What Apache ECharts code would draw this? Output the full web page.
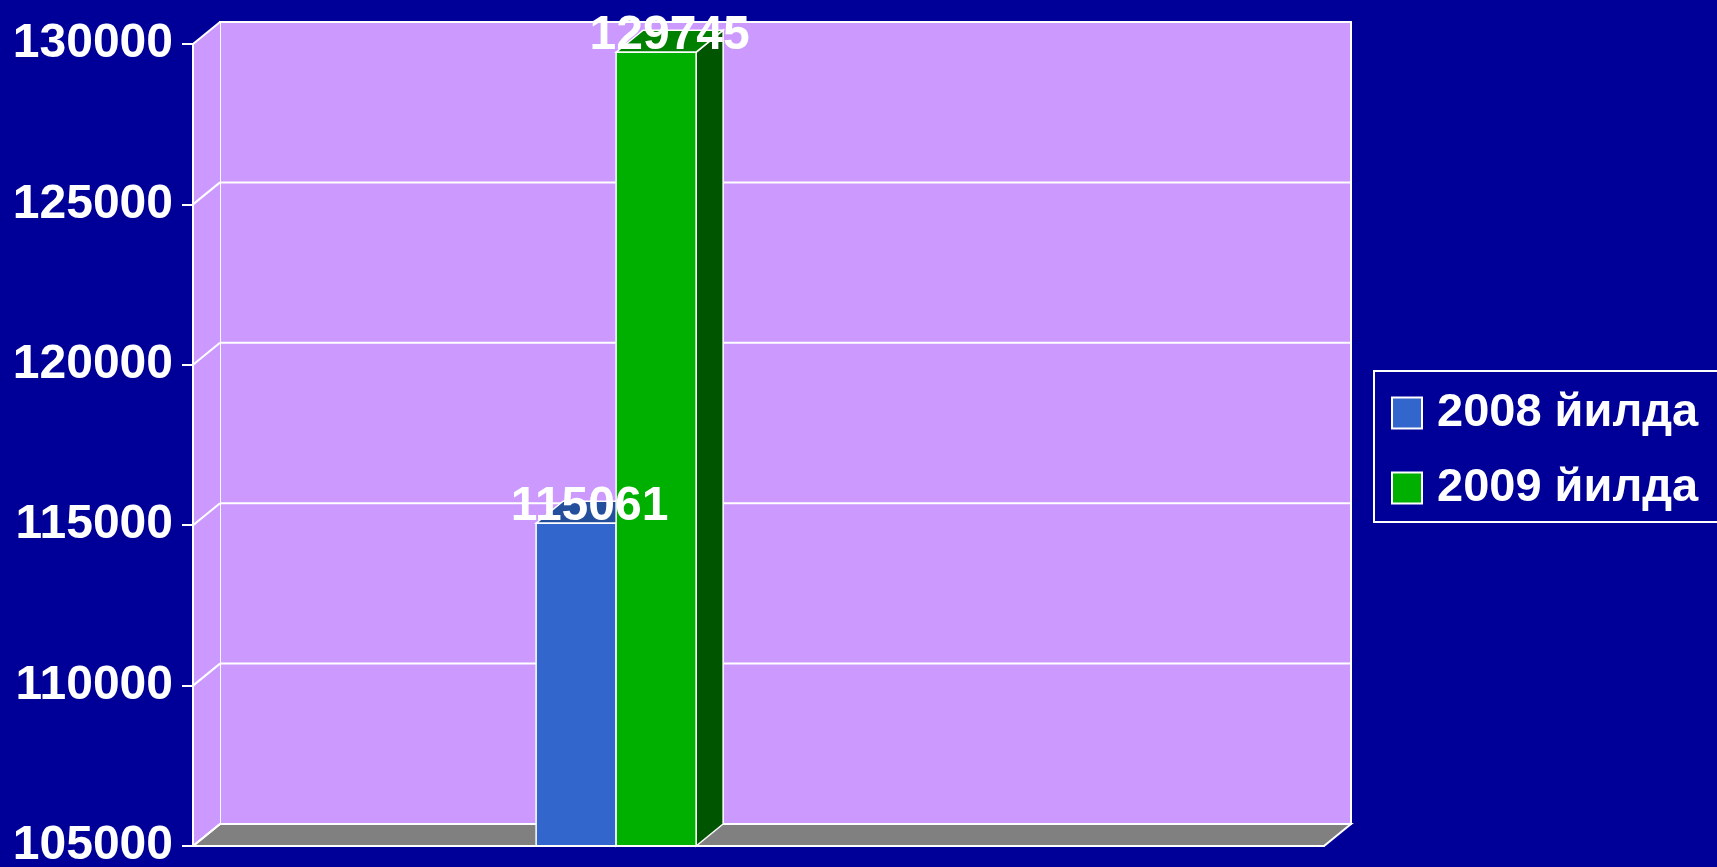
<!DOCTYPE html>
<html>
<head>
<meta charset="utf-8">
<script src="https://cdn.jsdelivr.net/npm/echarts@6/dist/echarts.min.js"></script>
<style>
  html, body { margin: 0; padding: 0; background: #000099; }
  #chart { width: 1717px; height: 867px; }
</style>
</head>
<body>
<div id="chart"></div>
<script>
// data
const categories = ['', '', '', ''];
const seriesNames = ['2008 йилда', '2009 йилда'];
const values2008 = [null, 115061, null, null];
const values2009 = [null, 129745, null, null];
const yTicks = [105000, 110000, 115000, 120000, 125000, 130000];

const yMin = yTicks[0];
const yMax = yTicks[yTicks.length - 1];
const yStep = yTicks[1] - yTicks[0];

// look of the 3d box
const DX = 27, DY = -22;
const BAR_W = 80;
const barOffsets = [-81, -1];
const FONT = 'Liberation Sans, Arial, sans-serif';
const WALL = '#cc99ff';
const colors = [
  { front: '#3366cc', top: '#234f9c', side: '#1d3f80' },
  { front: '#00b000', top: '#008000', side: '#005500' }
];

function toData(arr) {
  return arr.map((v, i) => [i, v]).filter(d => d[1] != null);
}

function frameRender(params, api) {
  const cs = params.coordSys;
  const x0 = cs.x, x1 = cs.x + cs.width;
  const y0 = cs.y, y1 = cs.y + cs.height;
  const line = { stroke: '#fff', lineWidth: 2 };
  const kids = [
    { type: 'rect', shape: { x: x0 + DX, y: y0 + DY, width: cs.width, height: cs.height },
      style: { fill: WALL, stroke: '#fff', lineWidth: 2 } },
    { type: 'polygon', shape: { points: [[x0, y0], [x0 + DX, y0 + DY], [x0 + DX, y1 + DY], [x0, y1]] },
      style: { fill: WALL } },
    { type: 'polygon', shape: { points: [[x0, y1], [x1, y1], [x1 + DX, y1 + DY], [x0 + DX, y1 + DY]] },
      style: { fill: '#808080', stroke: '#fff', lineWidth: 2 } }
  ];
  yTicks.forEach(v => {
    const y = api.coord([0, v])[1];
    if (v !== yMin) {
      kids.push({ type: 'line', shape: { x1: x0 + DX, y1: y + DY, x2: x1 + DX, y2: y + DY }, style: line });
    }
    kids.push({ type: 'line', shape: { x1: x0, y1: y, x2: x0 + DX, y2: y + DY }, style: line });
  });
  return { type: 'group', children: kids };
}

function barRender(idx) {
  const c = colors[idx];
  return function (params, api) {
    const cat = api.value(0), val = api.value(1);
    const p = api.coord([cat, val]);
    const yTop = p[1];
    const yBase = api.coord([cat, yMin])[1];
    const xa = p[0] + barOffsets[idx], xb = xa + BAR_W;
    const edge = { stroke: '#fff', lineWidth: 1.5 };
    return {
      type: 'group',
      children: [
        { type: 'polygon', shape: { points: [[xb, yTop], [xb + DX, yTop + DY], [xb + DX, yBase + DY], [xb, yBase]] },
          style: Object.assign({ fill: c.side }, edge) },
        { type: 'polygon', shape: { points: [[xa, yTop], [xb, yTop], [xb + DX, yTop + DY], [xa + DX, yTop + DY]] },
          style: Object.assign({ fill: c.top }, edge) },
        { type: 'rect', shape: { x: xa, y: yTop, width: BAR_W, height: yBase - yTop },
          style: Object.assign({ fill: c.front }, edge) },
        { type: 'text', z2: 100,
          style: { text: String(val), x: (xa + xb) / 2 + DX / 2, y: yTop + DY + 6,
                   fill: '#fff', font: 'bold 48px ' + FONT, align: 'center', verticalAlign: 'middle' } }
      ]
    };
  };
}

const chart = echarts.init(document.getElementById('chart'));
chart.setOption({
  backgroundColor: '#000099',
  animation: false,
  grid: { left: 193, top: 44, width: 1131, height: 802, containLabel: false, outerBoundsMode: 'none' },
  legend: {
    data: seriesNames,
    orient: 'vertical',
    left: 1374,
    top: 371,
    padding: [17, 20, 9, 17],
    itemGap: 25,
    itemWidth: 30,
    itemHeight: 31,
    icon: 'rect',
    borderColor: '#fff',
    borderWidth: 2,
    itemStyle: { borderColor: '#fff', borderWidth: 2 },
    textStyle: { color: '#fff', fontSize: 47, fontWeight: 'bold', fontFamily: FONT, lineHeight: 50, padding: [0, 0, 0, 10] }
  },
  xAxis: {
    type: 'category',
    data: categories,
    z: 5,
    axisLine: { lineStyle: { color: '#fff', width: 2 } },
    axisTick: { lineStyle: { color: '#fff', width: 2 }, length: 11 },
    axisLabel: { show: false },
    splitLine: { show: false }
  },
  yAxis: {
    type: 'value',
    min: yMin,
    max: yMax,
    interval: yStep,
    z: 5,
    axisLine: { show: true, lineStyle: { color: '#fff', width: 2 } },
    axisTick: { show: true, lineStyle: { color: '#fff', width: 2 }, length: 11 },
    axisLabel: { color: '#fff', fontSize: 48, fontWeight: 'bold', fontFamily: FONT, margin: 20,
                 formatter: v => String(v) },
    splitLine: { show: false }
  },
  series: [
    { type: 'custom', name: 'frame', silent: true, z: 1, clip: false,
      data: [[0, yMin]], renderItem: frameRender },
    { type: 'custom', name: seriesNames[0], z: 2, clip: false,
      itemStyle: { color: colors[0].front }, data: toData(values2008), renderItem: barRender(0) },
    { type: 'custom', name: seriesNames[1], z: 2, clip: false,
      itemStyle: { color: colors[1].front }, data: toData(values2009), renderItem: barRender(1) }
  ]
});
</script>
</body>
</html>
